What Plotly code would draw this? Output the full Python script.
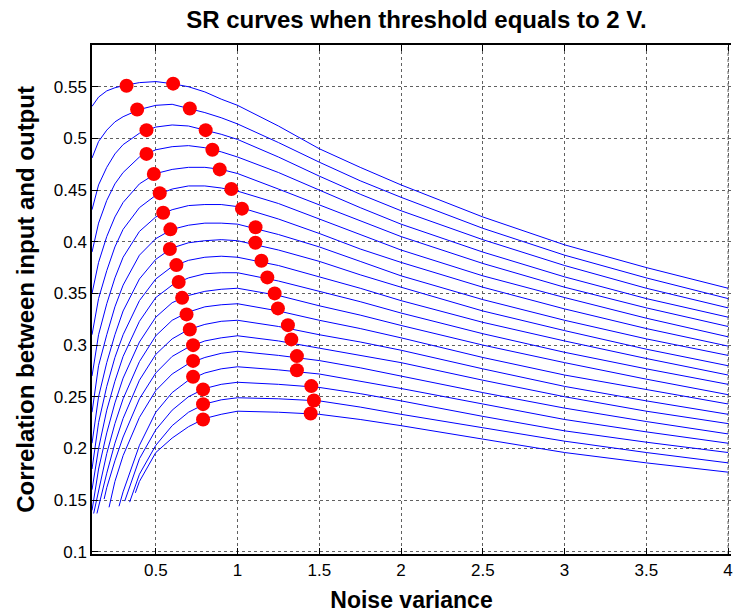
import plotly.graph_objects as go

# ---------------- data ----------------
# left / rising part of each curve: x positions and values (curve 1 = top)
left_x = [
    [0.11, 0.15, 0.2, 0.25, 0.3, 0.4, 0.5, 0.6, 0.7, 0.8, 0.9, 1.0],
    [0.11, 0.15, 0.2, 0.25, 0.3, 0.4, 0.5, 0.6, 0.7, 0.8, 0.9, 1.0],
    [0.11, 0.15, 0.2, 0.25, 0.3, 0.4, 0.5, 0.6, 0.7, 0.8, 0.9, 1.0],
    [0.11, 0.15, 0.2, 0.25, 0.3, 0.4, 0.5, 0.6, 0.7, 0.8, 0.9, 1.0],
    [0.11, 0.15, 0.2, 0.25, 0.3, 0.4, 0.5, 0.6, 0.7, 0.8, 0.9, 1.0],
    [0.11, 0.15, 0.2, 0.25, 0.3, 0.4, 0.5, 0.6, 0.7, 0.8, 0.9, 1.0],
    [0.11, 0.15, 0.2, 0.25, 0.3, 0.4, 0.5, 0.6, 0.7, 0.8, 0.9, 1.0],
    [0.11, 0.15, 0.2, 0.25, 0.3, 0.4, 0.5, 0.6, 0.7, 0.8, 0.9, 1.0],
    [0.11, 0.15, 0.2, 0.25, 0.3, 0.4, 0.5, 0.6, 0.7, 0.8, 0.9, 1.0],
    [0.11, 0.15, 0.2, 0.25, 0.3, 0.4, 0.5, 0.6, 0.7, 0.8, 0.9, 1.0],
    [0.11, 0.15, 0.2, 0.25, 0.3, 0.4, 0.5, 0.6, 0.7, 0.8, 0.9, 1.0],
    [0.11, 0.15, 0.2, 0.25, 0.3, 0.4, 0.5, 0.6, 0.7, 0.8, 0.9, 1.0],
    [0.12, 0.15, 0.2, 0.25, 0.3, 0.4, 0.5, 0.6, 0.7, 0.8, 0.9, 1.0],
    [0.14, 0.2, 0.25, 0.3, 0.4, 0.5, 0.6, 0.7, 0.8, 0.9, 1.0],
    [0.184, 0.2, 0.25, 0.3, 0.4, 0.5, 0.6, 0.7, 0.8, 0.9, 1.0],
    [0.214, 0.25, 0.3, 0.4, 0.5, 0.6, 0.7, 0.8, 0.9, 1.0],
    [0.275, 0.3, 0.4, 0.5, 0.6, 0.7, 0.8, 0.9, 1.0],
    [0.31, 0.4, 0.5, 0.6, 0.7, 0.8, 0.9, 1.0],
    [0.34, 0.4, 0.5, 0.6, 0.7, 0.8, 0.9, 1.0],
    [0.375, 0.4, 0.5, 0.6, 0.7, 0.8, 0.9, 1.0],
]
left_y = [
    [0.531, 0.540, 0.546, 0.549, 0.551, 0.554, 0.555, 0.553, 0.550, 0.545, 0.538, 0.532],
    [0.481, 0.497, 0.508, 0.516, 0.521, 0.528, 0.532, 0.533, 0.529, 0.525, 0.520, 0.514],
    [0.431, 0.455, 0.472, 0.485, 0.494, 0.505, 0.511, 0.513, 0.512, 0.508, 0.504, 0.499],
    [0.390, 0.418, 0.440, 0.456, 0.467, 0.482, 0.489, 0.492, 0.493, 0.491, 0.487, 0.482],
    [0.350, 0.380, 0.405, 0.424, 0.438, 0.456, 0.466, 0.470, 0.472, 0.472, 0.470, 0.466],
    [0.310, 0.345, 0.372, 0.395, 0.412, 0.433, 0.445, 0.451, 0.454, 0.454, 0.452, 0.449],
    [0.270, 0.310, 0.340, 0.365, 0.385, 0.410, 0.424, 0.431, 0.435, 0.436, 0.436, 0.434],
    [0.235, 0.280, 0.310, 0.337, 0.358, 0.387, 0.403, 0.412, 0.416, 0.418, 0.418, 0.417],
    [0.205, 0.250, 0.283, 0.310, 0.333, 0.364, 0.383, 0.394, 0.399, 0.401, 0.402, 0.401],
    [0.180, 0.225, 0.260, 0.288, 0.310, 0.343, 0.364, 0.376, 0.382, 0.385, 0.386, 0.385],
    [0.160, 0.200, 0.237, 0.265, 0.289, 0.323, 0.346, 0.358, 0.365, 0.369, 0.370, 0.370],
    [0.140, 0.180, 0.215, 0.244, 0.268, 0.303, 0.327, 0.341, 0.348, 0.352, 0.354, 0.355],
    [0.137, 0.160, 0.195, 0.224, 0.248, 0.284, 0.309, 0.324, 0.332, 0.337, 0.339, 0.340],
    [0.137, 0.176, 0.205, 0.229, 0.266, 0.291, 0.306, 0.315, 0.320, 0.323, 0.324],
    [0.151, 0.162, 0.188, 0.211, 0.248, 0.273, 0.289, 0.298, 0.304, 0.307, 0.309],
    [0.143, 0.168, 0.193, 0.230, 0.256, 0.272, 0.282, 0.288, 0.292, 0.294],
    [0.144, 0.158, 0.203, 0.235, 0.254, 0.266, 0.273, 0.277, 0.279],
    [0.149, 0.190, 0.218, 0.237, 0.250, 0.258, 0.262, 0.264],
    [0.148, 0.175, 0.203, 0.222, 0.235, 0.243, 0.247, 0.249],
    [0.157, 0.168, 0.196, 0.210, 0.221, 0.229, 0.233, 0.236],
]
# falling part, same x positions for every curve
right_x = [1.25, 1.5, 1.75, 2.0, 2.5, 3.0, 3.5, 4.0]
right_y = [
    [0.512, 0.490, 0.472, 0.455, 0.424, 0.397, 0.375, 0.355],
    [0.496, 0.477, 0.459, 0.443, 0.413, 0.387, 0.365, 0.345],
    [0.482, 0.4635, 0.446, 0.430, 0.402, 0.377, 0.355, 0.336],
    [0.467, 0.450, 0.433, 0.417, 0.390, 0.366, 0.345, 0.327],
    [0.451, 0.4355, 0.420, 0.405, 0.379, 0.356, 0.336, 0.318],
    [0.437, 0.422, 0.407, 0.392, 0.367, 0.346, 0.326, 0.308],
    [0.422, 0.408, 0.393, 0.380, 0.356, 0.335, 0.316, 0.299],
    [0.407, 0.395, 0.381, 0.367, 0.344, 0.324, 0.306, 0.290],
    [0.392, 0.381, 0.368, 0.356, 0.333, 0.314, 0.296, 0.280],
    [0.377, 0.366, 0.355, 0.343, 0.322, 0.304, 0.287, 0.271],
    [0.362, 0.352, 0.342, 0.331, 0.311, 0.293, 0.277, 0.262],
    [0.348, 0.338, 0.329, 0.319, 0.300, 0.283, 0.267, 0.252],
    [0.333, 0.324, 0.316, 0.307, 0.288, 0.271, 0.257, 0.243],
    [0.318, 0.310, 0.303, 0.295, 0.277, 0.260, 0.246, 0.233],
    [0.304, 0.297, 0.290, 0.283, 0.266, 0.250, 0.236, 0.224],
    [0.290, 0.285, 0.278, 0.270, 0.254, 0.239, 0.226, 0.214],
    [0.276, 0.272, 0.265, 0.258, 0.243, 0.228, 0.216, 0.205],
    [0.262, 0.259, 0.253, 0.246, 0.231, 0.217, 0.206, 0.196],
    [0.248, 0.246, 0.240, 0.233, 0.220, 0.207, 0.196, 0.186],
    [0.235, 0.233, 0.228, 0.222, 0.209, 0.196, 0.186, 0.177],
]
# red markers: two per curve
dot_left_x = [0.321, 0.386, 0.443, 0.443, 0.488, 0.524, 0.545, 0.589, 0.586, 0.626,
              0.640, 0.661, 0.688, 0.708, 0.728, 0.728, 0.728, 0.789, 0.789, 0.789]
dot_left_y = [0.551, 0.528, 0.508, 0.485, 0.4655, 0.447, 0.428, 0.412, 0.393, 0.3774,
              0.361, 0.3457, 0.3297, 0.315, 0.2999, 0.2847, 0.2693, 0.2571, 0.2428, 0.228]
dot_right_x = [0.606, 0.708, 0.805, 0.846, 0.891, 0.962, 1.027, 1.110, 1.109, 1.146,
               1.182, 1.227, 1.247, 1.308, 1.329, 1.363, 1.363, 1.451, 1.467, 1.447]
dot_right_y = [0.553, 0.529, 0.508, 0.489, 0.470, 0.451, 0.432, 0.414, 0.399, 0.3816,
               0.3655, 0.350, 0.3355, 0.3193, 0.3055, 0.2893, 0.2757, 0.2603, 0.2464, 0.2338]

x_ticks = [0.5, 1, 1.5, 2, 2.5, 3, 3.5, 4]
x_tick_text = ["0.5", "1", "1.5", "2", "2.5", "3", "3.5", "4"]
y_ticks = [0.1, 0.15, 0.2, 0.25, 0.3, 0.35, 0.4, 0.45, 0.5, 0.55]
y_tick_text = ["0.1", "0.15", "0.2", "0.25", "0.3", "0.35", "0.4", "0.45", "0.5", "0.55"]

# ---------------- figure ----------------
fig = go.Figure()
for i in range(len(left_y)):
    fig.add_trace(go.Scatter(
        x=left_x[i] + right_x, y=left_y[i] + right_y[i],
        mode="lines", line=dict(color="#0000FF", width=1),
        showlegend=False, hoverinfo="skip"))

fig.add_trace(go.Scatter(
    x=dot_left_x + dot_right_x, y=dot_left_y + dot_right_y,
    mode="markers", marker=dict(color="#FF0000", size=14, line=dict(width=0)),
    showlegend=False))

font_family = "Liberation Sans, Arial, sans-serif"
grid_color = "#606060"
axis_common = dict(
    showline=True, linecolor="black", linewidth=1.5,
    ticks="inside", ticklen=6, tickcolor="black", tickwidth=1,
    showgrid=True, gridcolor=grid_color, gridwidth=1, griddash="dot",
    zeroline=False, tickfont=dict(family=font_family, size=17, color="black"),
)

fig.update_layout(
    width=733, height=614,
    margin=dict(l=92, r=0, t=45, b=60),
    paper_bgcolor="white", plot_bgcolor="white",
    title=dict(text="<b>SR curves when threshold equals to 2 V.</b>",
               x=416.5 / 733, xref="container", xanchor="center",
               y=1 - 20 / 614, yref="container", yanchor="middle",
               font=dict(family=font_family, size=24, color="black")),
    xaxis=dict(range=[0.1098, 4.018], tickvals=x_ticks, ticktext=x_tick_text,
               mirror="ticks", ticklabeloverflow="allow",
               title=dict(text="<b>Noise variance</b>", standoff=13,
                          font=dict(family=font_family, size=23, color="black")),
               **axis_common),
    yaxis=dict(range=[0.0978, 0.5904], tickvals=y_ticks, ticktext=y_tick_text,
               mirror=False, **axis_common),
    annotations=[dict(
        text="<b>Correlation between input and output</b>",
        xref="paper", yref="paper", x=(25 - 92) / 641, y=0.5,
        xanchor="center", yanchor="middle", textangle=-90, showarrow=False,
        font=dict(family=font_family, size=24, color="black"))],
    # last vertical grid line (plotly drops it this close to the plot edge)
    shapes=[dict(type="line", xref="x", yref="paper",
                 x0=x_ticks[-1], x1=x_ticks[-1], y0=0, y1=1, layer="below",
                 line=dict(color=grid_color, width=1, dash="dot"))],
)

fig.write_html("out.html")
